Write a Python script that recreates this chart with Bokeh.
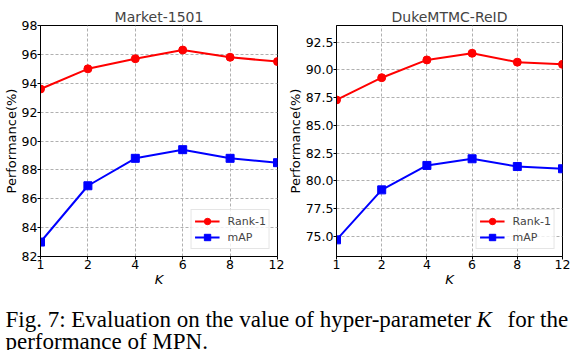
from bokeh.plotting import figure
from bokeh.models import FixedTicker, Range1d, ColumnDataSource
from bokeh.layouts import column, row
from bokeh.embed import file_html
from bokeh.resources import INLINE
from bokeh.core.properties import value

k_labels = ["1", "2", "4", "6", "8", "12"]
market_rank1 = [93.6, 95.0, 95.7, 96.3, 95.8, 95.5]
market_map = [83.0, 86.9, 88.8, 89.4, 88.8, 88.5]
duke_rank1 = [87.3, 89.3, 90.9, 91.5, 90.7, 90.5]
duke_map = [74.7, 79.2, 81.4, 82.0, 81.3, 81.1]
market_yticks = [82, 84, 86, 88, 90, 92, 94, 96, 98]
duke_yticks = [75.0, 77.5, 80.0, 82.5, 85.0, 87.5, 90.0, 92.5]
caption_line1 = "Fig. 7: Evaluation on the value of hyper-parameter "
caption_k = "K"
caption_line1b = "for the"
caption_line2 = "performance of MPN."

FONT = "DejaVu Sans"


def panel(title, rank1, mAP, yr, yticks, fmt, width, bl, br):
    xs = list(range(len(k_labels)))
    p = figure(width=width, height=290, output_backend="svg", toolbar_location=None,
               x_range=Range1d(0, len(k_labels) - 1), y_range=Range1d(*yr),
               min_border_left=bl, min_border_right=br, min_border_top=25,
               min_border_bottom=34)
    p.title.text = title
    p.title.align = "center"
    p.title.text_font = FONT
    p.title.text_font_size = "14px"
    p.title.text_font_style = "normal"
    p.title.standoff = 1
    p.title.offset = 0
    src = ColumnDataSource(dict(x=xs, r=rank1, m=mAP))
    p.line("x", "r", source=src, color="#ff0000", line_width=2, legend_label="Rank-1")
    p.scatter("x", "r", source=src, marker="circle", size=8, color="#ff0000", legend_label="Rank-1")
    p.line("x", "m", source=src, color="#0000ff", line_width=2, legend_label="mAP")
    p.scatter("x", "m", source=src, marker="square", size=8, color="#0000ff", legend_label="mAP")

    p.xaxis.ticker = FixedTicker(ticks=xs)
    p.xaxis.major_label_overrides = {i: s for i, s in enumerate(k_labels)}
    p.yaxis.ticker = FixedTicker(ticks=yticks)
    p.yaxis.major_label_overrides = {t: fmt % t for t in yticks}
    p.xaxis.axis_label = "K"
    p.xaxis.axis_label_text_font_style = "italic"
    p.yaxis.axis_label = "Performance(%)"
    p.yaxis.axis_label_text_font_style = "normal"
    for ax in (p.xaxis, p.yaxis):
        ax.axis_label_text_font = FONT
        ax.axis_label_text_font_size = "13px"
        ax.major_label_text_font = FONT
        ax.major_label_text_font_size = "12.5px"
        ax.major_label_text_color = "black"
        ax.axis_label_text_color = "black"
        ax.major_tick_in = 0
        ax.major_tick_out = 3
        ax.minor_tick_line_color = None
        ax.axis_line_color = "black"
        ax.major_tick_line_color = "black"
        ax.major_label_standoff = 0
        ax.axis_label_standoff = 0
    p.outline_line_color = "black"
    p.outline_line_width = 1
    p.outline_line_alpha = 1
    p.grid.grid_line_color = "#b0b0b0"
    p.grid.grid_line_dash = "3 2"
    p.grid.grid_line_width = 1

    lg = p.legend[0]
    lg.location = "bottom_right"
    lg.margin = 7
    lg.padding = 3
    lg.spacing = 0
    lg.label_text_font = FONT
    lg.label_text_font_size = "11px"
    lg.label_height = 16
    lg.glyph_height = 16
    lg.glyph_width = 25
    lg.label_standoff = 8
    lg.border_line_color = "#cccccc"
    lg.background_fill_alpha = 0.8
    return p


p1 = panel("Market-1501", market_rank1, market_map, (82, 98), market_yticks, "%d", 284, 39, 7)
p2 = panel("DukeMTMC-ReID", duke_rank1, duke_map, (73.2, 94.0), duke_yticks, "%.1f", 287, 46, 9)

cap = figure(width=571, height=60, output_backend="svg", toolbar_location=None, title=None,
             x_axis_location=None, y_axis_location=None,
             x_range=Range1d(0, 571), y_range=Range1d(60, 0), min_border=0)
cap.grid.visible = False
cap.outline_line_color = None
serif = value("Liberation Serif")
cap.text(x=[5], y=[29], text=[caption_line1], text_font=serif, text_font_size="23px",
         text_baseline="alphabetic", text_color="black")
cap.text(x=[476], y=[29], text=[caption_k], text_font=serif, text_font_size="23px",
         text_font_style="italic", text_baseline="alphabetic", text_color="black")
cap.text(x=[507], y=[29], text=[caption_line1b], text_font=serif, text_font_size="23px",
         text_baseline="alphabetic", text_color="black")
cap.text(x=[5], y=[51], text=[caption_line2], text_font=serif, text_font_size="23px",
         text_baseline="alphabetic", text_color="black")

layout = column(row(p1, p2, spacing=0), cap, spacing=0)
open("out.html", "w").write(file_html(layout, INLINE))
